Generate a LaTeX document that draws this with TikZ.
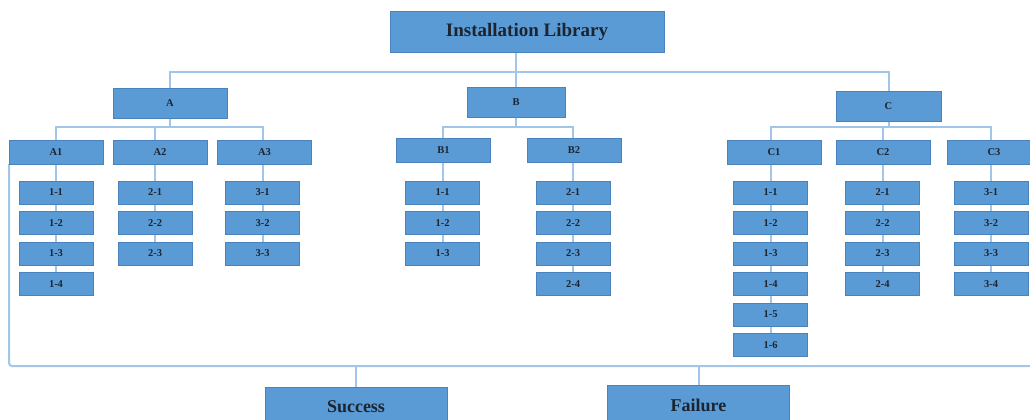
\documentclass[tikz,border=0pt]{standalone}
\usepackage{fontspec}
\setmainfont{Liberation Serif}
\usetikzlibrary{
  backgrounds,
  positioning,
}
\definecolor{boxfill}{HTML}{5B9BD5}
\definecolor{boxline}{HTML}{4A82BC}
\definecolor{wire}{HTML}{A2C6E9}
\definecolor{ink}{HTML}{1C2430}
\tikzset{
  n/.style={
    draw=boxline, fill=boxfill, line width=0.8pt, text=ink,
    inner sep=0pt, outer sep=0pt, font=\bfseries\fontsize{10.5}{12}\selectfont,
  },
  head/.style={n, minimum width=274pt, minimum height=41pt,
    font=\bfseries\fontsize{19}{22}\selectfont},
  cat/.style={n, minimum height=30pt},
  sub/.style={n, minimum width=94pt, minimum height=24pt},
  leaf/.style={n, minimum width=74pt, minimum height=23pt},
  res/.style={n, minimum width=182pt, minimum height=40pt,
    font=\bfseries\fontsize{18}{21}\selectfont},
  link/.style={draw=wire, line width=2pt},
}
\begin{document}
\begin{tikzpicture}[x=1pt, y=-1pt, node distance=7.5pt]
  \useasboundingbox (0,0) rectangle (1030,420);
  \clip (0,0) rectangle (1030,420);
  \node[head](lib) at (527,31.5){Installation Library};
  \node[cat, minimum width=114pt](A) at (170,103){A};
  \node[cat, minimum width=98pt](B) at (516,102.5){B};
  \node[cat, minimum width=105pt](C) at (888.5,106){C};
  % second row
  \node[sub](A1) at (56,152){A1};
  \node[sub](A2) at (160,152){A2};
  \node[sub](A3) at (264.5,152){A3};
  \node[sub](B1) at (443.5,150.5){B1};
  \node[sub](B2) at (574,150.5){B2};
  \node[sub](C1) at (774,152){C1};
  \node[sub](C2) at (883,152){C2};
  \node[sub](C3) at (994,152){C3};
  % leaf columns: name/x/digit/count
  \foreach \col/\x/\g/\k in {a1/56/1/4, a2/155/2/3, a3/262.5/3/3,
      b1/442.5/1/3, b2/573/2/4, c1/770.5/1/6, c2/882.5/2/4, c3/991/3/4}{
    \node[leaf](\col-1) at (\x,192.5){\g-1};
    \foreach \i [remember=\i as \j (initially 1)] in {2,...,\k}
      \node[leaf, below=of \col-\j](\col-\i){\g-\i};
  }
  \node[res](succ) at (356,407){Success};
  \node[res](fail) at (698.5,405){Failure};
  %%
  \begin{scope}[on background layer]
    \draw[link](B.north) -- (B.north |- lib.south);
    \draw[link](A.north) -- ++(0,-16) -| (C.north);
    % buses under A, B, C
    \draw[link](A.south) -- ++(0,9) coordinate(busA);
    \draw[link](A1.north -| a1-1) |- (busA) -| (A3.north -| a3-1);
    \draw[link](A2.north -| a2-1) -- (a2-1 |- busA);
    \draw[link](B.south) -- ++(0,9) coordinate(busB);
    \draw[link](B1.north -| b1-1) |- (busB) -| (B2.north -| b2-1);
    \draw[link](C.south) -- ++(0,6) coordinate(busC);
    \draw[link](C1.north -| c1-1) |- (busC) -| (C3.north -| c3-1);
    \draw[link](C2.north -| c2-1) -- (c2-1 |- busC);
    % down through the leaves
    \foreach \p/\col/\k in {A1/a1/4, A2/a2/3, A3/a3/3, B1/b1/3, B2/b2/4,
        C1/c1/6, C2/c2/4, C3/c3/4}
      \draw[link](\p.south -| \col-1) -- (\col-\k.north);
    % result bus
    \coordinate (rbus) at (1040,366);
    \draw[link, rounded corners=3pt](A1.south west) |- (rbus);
    \draw[link](succ.north) -- (succ.north |- rbus);
    \draw[link](fail.north) -- (fail.north |- rbus);
  \end{scope}
\end{tikzpicture}
\end{document}
